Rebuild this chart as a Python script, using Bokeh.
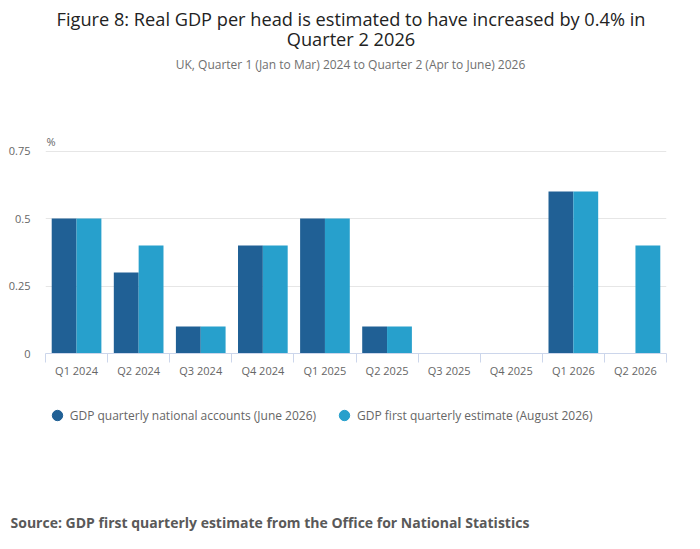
import numpy as np
from bokeh.plotting import figure
from bokeh.layouts import column
from bokeh.models import (ColumnDataSource, Range1d, FixedTicker, Label, Legend, LegendItem)
from bokeh.transform import dodge
from bokeh.embed import file_html
from bokeh.resources import INLINE

# ---- data ----
quarters = ["Q1 2024", "Q2 2024", "Q3 2024", "Q4 2024", "Q1 2025",
            "Q2 2025", "Q3 2025", "Q4 2025", "Q1 2026", "Q2 2026"]
qna_june = [0.5, 0.3, 0.1, 0.4, 0.5, 0.1, 0.0, 0.0, 0.6, np.nan]
first_est_aug = [0.5, 0.4, 0.1, 0.4, 0.5, 0.1, 0.0, 0.0, 0.6, 0.4]
y_ticks = [0, 0.25, 0.5, 0.75]
y_tick_labels = ["0", "0.25", "0.5", "0.75"]
series_names = ["GDP quarterly national accounts (June 2026)",
                "GDP first quarterly estimate (August 2026)"]
title_lines = ["Figure 8: Real GDP per head is estimated to have increased by 0.4% in",
               "Quarter 2 2026"]
subtitle = "UK, Quarter 1 (Jan to Mar) 2024 to Quarter 2 (Apr to June) 2026"
source_text = "Source: GDP first quarterly estimate from the Office for National Statistics"
unit_label = "%"

DARK = "#206095"
LIGHT = "#27a0cc"
FONT = "Open Sans"
W = 684
BORDER_L, BORDER_R = 45, 18          # shared (aligned) plot borders in the column
TOP_H, MAIN_H, BOT_H = 130, 250, 152


def text_panel(h, **kw):
    f = figure(width=W, height=h, output_backend="svg", toolbar_location=None,
               x_range=Range1d(BORDER_L, W - BORDER_R), y_range=Range1d(0, h),
               x_axis_type=None, y_axis_type=None, min_border=0,
               min_border_left=BORDER_L, min_border_right=BORDER_R, **kw)
    f.outline_line_color = None
    return f


# ---- header: title and subtitle ----
top = text_panel(TOP_H)
top.add_layout(Label(x=350.5, y=TOP_H - 18, text=title_lines[0], text_font=FONT,
                     text_font_size="18.2px", text_color="#222222",
                     text_align="center", text_baseline="middle"))
top.add_layout(Label(x=350.5, y=TOP_H - 38.5, text=title_lines[1], text_font=FONT,
                     text_font_size="18.2px", text_color="#222222",
                     text_align="center", text_baseline="middle"))
top.add_layout(Label(x=350, y=TOP_H - 64, text=subtitle, text_font=FONT,
                     text_font_size="12px", text_color="#707070",
                     text_align="center", text_baseline="middle"))

# ---- main chart ----
n = len(quarters)
centers = [i + 0.5 for i in range(n)]
bounds = [float(i) for i in range(n + 1)]
src = ColumnDataSource(dict(x=centers, qna=np.array(qna_june, dtype=float),
                            fqe=np.array(first_est_aug, dtype=float)))

p = figure(width=W, height=MAIN_H, output_backend="svg", toolbar_location=None,
           x_range=Range1d(0, n), y_range=Range1d(0, 0.826),
           min_border_left=BORDER_L, min_border_right=BORDER_R, min_border_top=0,
           min_border_bottom=27)
p.outline_line_color = None

p.vbar(x=dodge("x", -0.2, range=p.x_range), top="qna", width=0.4, source=src,
       fill_color=DARK, line_color=None)
p.vbar(x=dodge("x", 0.2, range=p.x_range), top="fqe", width=0.4, source=src,
       fill_color=LIGHT, line_color=None)

xa = p.xaxis[0]
xa.ticker = FixedTicker(ticks=centers, minor_ticks=bounds)
xa.major_label_overrides = dict(zip(centers, quarters))
xa.major_tick_line_color = None
xa.major_tick_out = 0
xa.major_tick_in = 0
xa.minor_tick_line_color = "#ccd6eb"
xa.minor_tick_out = 9
xa.minor_tick_in = 0
xa.axis_line_color = "#ccd6eb"
xa.major_label_standoff = 0
xa.major_label_text_font = FONT
xa.major_label_text_font_size = "11px"
xa.major_label_text_color = "#666666"

ya = p.yaxis[0]
ya.ticker = FixedTicker(ticks=y_ticks)
ya.major_label_overrides = dict(zip(y_ticks, y_tick_labels))
ya.axis_line_color = None
ya.major_tick_line_color = None
ya.minor_tick_line_color = None
ya.major_tick_out = 0
ya.major_tick_in = 0
ya.major_label_standoff = 15
ya.major_label_text_font = FONT
ya.major_label_text_font_size = "11px"
ya.major_label_text_color = "#666666"

p.xgrid.grid_line_color = None
p.ygrid.grid_line_color = "#e6e6e6"

p.add_layout(Label(x=0, y=y_ticks[-1], x_offset=1, y_offset=2, text=unit_label,
                   text_font=FONT, text_font_size="11px", text_color="#666666",
                   text_baseline="bottom", text_align="left"))

# ---- footer: legend (in frame) and source (as a title below) ----
bot = text_panel(BOT_H, title=source_text, title_location="below")
bot.title.align = "left"
bot.title.offset = 10 - BORDER_L
bot.title.vertical_align = "middle"
bot.title.standoff = 0
bot.title.text_font = FONT
bot.title.text_font_size = "14px"
bot.title.text_font_style = "bold"
bot.title.text_color = "#595959"

d1 = bot.scatter(x=[np.nan], y=[np.nan], marker="circle", fill_color=DARK, line_color=DARK)
d2 = bot.scatter(x=[np.nan], y=[np.nan], marker="circle", fill_color=LIGHT, line_color=LIGHT)
legend = Legend(items=[LegendItem(label=series_names[0], renderers=[d1]),
                       LegendItem(label=series_names[1], renderers=[d2])],
                orientation="horizontal", location=(-1.3, 83),
                glyph_width=26, glyph_height=26, label_height=14, label_standoff=0,
                spacing=15, padding=0, margin=0,
                label_text_font=FONT, label_text_font_size="12px",
                label_text_color="#666666",
                border_line_color=None, background_fill_alpha=0)
bot.add_layout(legend, "center")

layout = column(top, p, bot, spacing=0)
open("out.html", "w").write(file_html(layout, INLINE))
